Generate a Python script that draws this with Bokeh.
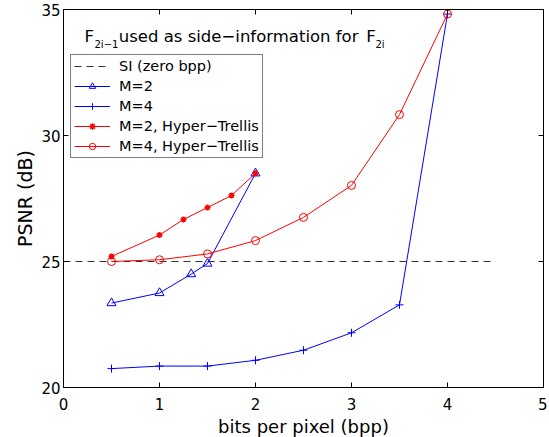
from bokeh.plotting import figure
from bokeh.models import (LinearAxis, FixedTicker, Legend, LegendItem, Label, Range1d)
from bokeh.embed import file_html
from bokeh.resources import INLINE

# ---- data ----
si_bpp = [0.0, 4.5]
si_psnr = [25.0, 25.0]

m2_bpp = [0.5, 1.0, 1.33, 1.5, 2.0]
m2_psnr = [23.35, 23.75, 24.5, 24.92, 28.5]

m4_bpp = [0.5, 1.0, 1.5, 2.0, 2.5, 3.0, 3.5, 4.0]
m4_psnr = [20.75, 20.85, 20.85, 21.08, 21.48, 22.17, 23.28, 34.82]

m2ht_bpp = [0.5, 1.0, 1.25, 1.5, 1.75, 2.0]
m2ht_psnr = [25.2, 26.05, 26.67, 27.14, 27.62, 28.5]

m4ht_bpp = [0.5, 1.0, 1.5, 2.0, 2.5, 3.0, 3.5, 4.0]
m4ht_psnr = [25.0, 25.07, 25.3, 25.83, 26.75, 28.02, 30.83, 34.82]

x_ticks = [0, 1, 2, 3, 4, 5]
y_ticks = [20, 25, 30, 35]

FONT = "DejaVu Sans"

p = figure(frame_width=480, frame_height=378,
           x_range=Range1d(0, 5), y_range=Range1d(20, 35),
           output_backend="svg", toolbar_location=None,
           min_border_left=63, min_border_top=9, min_border_right=4,
           min_border_bottom=30, x_axis_location=None, y_axis_location=None)
p.grid.visible = False
p.outline_line_color = "black"
p.outline_line_width = 1
p.background_fill_color = "white"
p.border_fill_color = "white"


def make_axis(ticks, label=None, show_labels=True, standoff=6):
    ax = LinearAxis(ticker=FixedTicker(ticks=ticks))
    ax.major_tick_in = 5
    ax.major_tick_out = 0
    ax.minor_tick_line_color = None
    ax.axis_line_color = "black"
    ax.major_tick_line_color = "black"
    ax.major_label_text_font = FONT
    if show_labels:
        ax.major_label_text_color = "black"
        ax.major_label_text_font_size = "15px"
        ax.major_label_standoff = standoff
    else:
        # tick marks only (box-style axes), labels not drawn
        ax.major_label_text_color = None
        ax.major_label_text_font_size = "1px"
        ax.major_label_standoff = 0
    if label:
        ax.axis_label = label
        ax.axis_label_text_font = FONT
        ax.axis_label_text_font_style = "normal"
        ax.axis_label_text_color = "black"
    return ax


xb = make_axis(x_ticks, "bits per pixel (bpp)", standoff=10)
xb.axis_label_text_font_size = "18px"
xb.axis_label_standoff = 3
yl = make_axis(y_ticks, "PSNR (dB)", standoff=3)
yl.axis_label_text_font_size = "19px"
yl.axis_label_standoff = 2
xt = make_axis(x_ticks, show_labels=False)
yr = make_axis(y_ticks, show_labels=False)
p.add_layout(xb, "below")
p.add_layout(yl, "left")
p.add_layout(xt, "above")
p.add_layout(yr, "right")

BLUE = "#0000ff"
RED = "#ff0000"

r_si = p.line(si_bpp, si_psnr, line_color="#333333", line_width=1, line_dash="7 5")

r_m2l = p.line(m2_bpp, m2_psnr, line_color=BLUE, line_width=1)
r_m2s = p.scatter(m2_bpp, m2_psnr, marker="triangle", size=9, line_color=BLUE,
                  fill_color=None, line_width=1)

r_m4l = p.line(m4_bpp, m4_psnr, line_color=BLUE, line_width=1)
r_m4s = p.scatter(m4_bpp, m4_psnr, marker="cross", size=8, line_color=BLUE,
                  line_width=1)

r_m2htl = p.line(m2ht_bpp, m2ht_psnr, line_color=RED, line_width=1)
r_m2hts = p.scatter(m2ht_bpp, m2ht_psnr, marker="asterisk", size=6, line_color=RED,
                    line_width=1.6)

r_m4htl = p.line(m4ht_bpp, m4ht_psnr, line_color=RED, line_width=1)
r_m4hts = p.scatter(m4ht_bpp, m4ht_psnr, marker="circle", size=8, line_color=RED,
                    fill_color=None, line_width=1)

legend = Legend(items=[
    LegendItem(label="SI (zero bpp)", renderers=[r_si]),
    LegendItem(label="M=2", renderers=[r_m2l, r_m2s]),
    LegendItem(label="M=4", renderers=[r_m4l, r_m4s]),
    LegendItem(label="M=2, Hyper\u2212Trellis", renderers=[r_m2htl, r_m2hts]),
    LegendItem(label="M=4, Hyper\u2212Trellis", renderers=[r_m4htl, r_m4hts]),
], location=(7, 229))
legend.label_text_font = FONT
legend.label_text_font_size = "14.5px"
legend.label_text_color = "black"
legend.glyph_width = 36
legend.glyph_height = 16
legend.label_height = 16
legend.spacing = 4
legend.padding = 3
legend.margin = 0
legend.label_standoff = 9
legend.border_line_color = "black"
legend.border_line_width = 1
legend.background_fill_color = "white"
legend.background_fill_alpha = 1
p.add_layout(legend, "center")

# title text inside the axes
title_parts = [
    ("F", 0.219, 33.93, "16.5px"),
    ("2i\u22121", 0.323, 33.62, "10px"),
    ("used as side\u2212information for", 0.576, 33.93, "16.5px"),
    ("F", 3.153, 33.93, "16.5px"),
    ("2i", 3.25, 33.62, "10px"),
]
for txt, tx, ty, fs in title_parts:
    p.add_layout(Label(x=tx, y=ty, text=txt, text_font=FONT, text_font_size=fs,
                       text_color="black", text_baseline="alphabetic",
                       text_align="left"))

open("out.html", "w").write(file_html(p, INLINE))
